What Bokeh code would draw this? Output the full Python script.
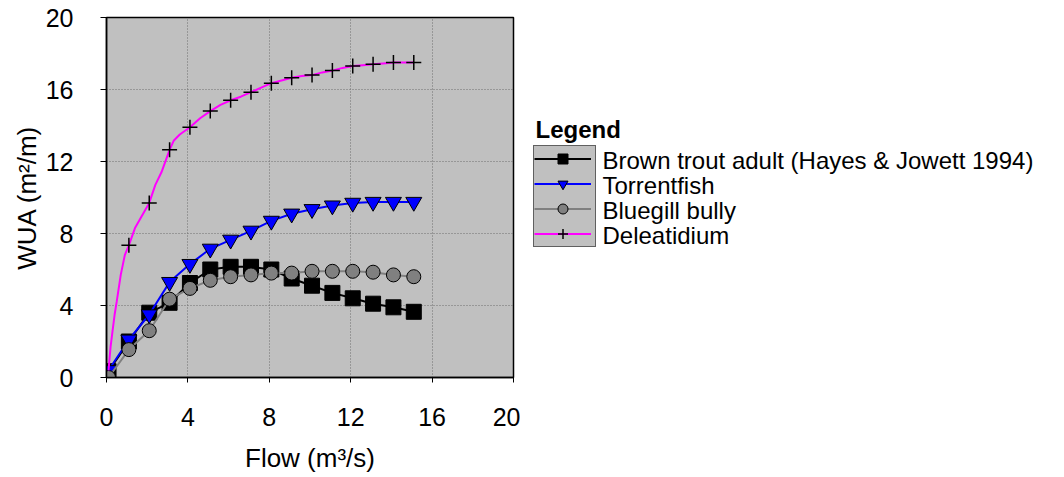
from bokeh.plotting import figure
from bokeh.models import Range1d, Legend, LegendItem, FixedTicker, Label
from bokeh.layouts import row
from bokeh.embed import file_html
from bokeh.resources import INLINE

# ---- data ----
flow = [0.1, 1.1, 2.1, 3.1, 4.1, 5.1, 6.1, 7.1, 8.1, 9.1, 10.1, 11.1, 12.1, 13.1, 14.1, 15.1]
brown_trout = [0.35, 2.0, 3.6, 4.15, 5.25, 6.0, 6.15, 6.15, 6.0, 5.5, 5.1, 4.7, 4.4, 4.1, 3.9, 3.65]
torrentfish = [0.4, 2.1, 3.5, 5.3, 6.3, 7.15, 7.65, 8.15, 8.7, 9.1, 9.35, 9.55, 9.7, 9.75, 9.75, 9.75]
bluegill = [0.0, 1.55, 2.6, 4.35, 4.95, 5.4, 5.6, 5.7, 5.8, 5.8, 5.9, 5.9, 5.9, 5.85, 5.7, 5.6]

delea_flow = [1.1, 2.1, 3.1, 4.1, 5.1, 6.1, 7.1, 8.1, 9.1, 10.1, 11.1, 12.1, 13.1, 14.1, 15.1]
delea_wua = [7.35, 9.7, 12.65, 13.9, 14.8, 15.4, 15.85, 16.35, 16.65, 16.8, 17.05, 17.3, 17.4, 17.5, 17.5]

delea_curve_flow = [0.1, 0.2, 0.3, 0.4, 0.5, 0.7, 0.9, 1.1, 1.4, 1.7, 2.1, 2.4, 2.7, 3.1, 3.3,
                    3.6, 4.1, 4.6, 5.1, 5.6, 6.1, 6.6, 7.1, 7.6, 8.1, 8.6, 9.1, 9.6, 10.1, 10.6,
                    11.1, 11.6, 12.1, 12.6, 13.1, 13.6, 14.1, 14.6, 15.1]
delea_curve_wua = [0.4, 1.7, 2.6, 3.5, 4.2, 5.7, 6.8, 7.35, 8.3, 8.9, 9.7, 10.7, 11.4, 12.65, 13.15,
                   13.5, 13.9, 14.4, 14.8, 15.15, 15.4, 15.6, 15.85, 16.1, 16.35, 16.5, 16.65, 16.75,
                   16.8, 16.95, 17.05, 17.2, 17.3, 17.35, 17.4, 17.45, 17.5, 17.5, 17.5]

axis_ticks = [0, 4, 8, 12, 16, 20]
legend_title = "Legend"
series_labels = ["Brown trout adult (Hayes & Jowett 1994)", "Torrentfish", "Bluegill bully", "Deleatidium"]

FONT = "Liberation Sans"
H = 475
FRAME_BOTTOM = 378
MAIN_W = 520

# ---- styles per series ----
styles = [
    dict(line=dict(line_color="black", line_width=2),
         mark=dict(marker="square", size=15, fill_color="black", line_color="black")),
    dict(line=dict(line_color="#0000ff", line_width=2),
         mark=dict(marker="inverted_triangle", size=16, fill_color="#0000ff", line_color="black")),
    dict(line=dict(line_color="#808080", line_width=2),
         mark=dict(marker="circle", size=14, fill_color="#808080", line_color="black")),
    dict(line=dict(line_color="#ff00ff", line_width=2),
         mark=dict(marker="cross", size=15, line_color="black", line_width=1.5)),
]
series_xy = [(flow, brown_trout), (flow, torrentfish), (flow, bluegill), (delea_flow, delea_wua)]

# ---- main chart ----
p = figure(width=MAIN_W, height=H, output_backend="svg", toolbar_location=None,
           x_range=Range1d(0, 20), y_range=Range1d(0, 20),
           min_border_left=106, min_border_right=7, min_border_top=17,
           min_border_bottom=H - FRAME_BOTTOM)
p.background_fill_color = "#c0c0c0"
p.border_fill_color = "white"
p.outline_line_color = "black"
p.outline_line_width = 1.5

for ax in (p.xaxis, p.yaxis):
    ax.ticker = FixedTicker(ticks=axis_ticks)
    ax.axis_line_color = "black"
    ax.axis_line_width = 1.5
    ax.major_tick_line_color = "black"
    ax.major_tick_in = 0
    ax.minor_tick_in = 0
    ax.minor_tick_out = 0
    ax.major_label_text_font = FONT
    ax.major_label_text_font_size = "25px"
    ax.major_label_text_color = "black"
    ax.axis_label_text_font = FONT
    ax.axis_label_text_font_size = "26px"
    ax.axis_label_text_font_style = "normal"
    ax.axis_label_text_color = "black"

p.xaxis.axis_label = "Flow (m³/s)"
p.yaxis.axis_label = "WUA (m²/m)"
p.xaxis.major_tick_out = 5
p.yaxis.major_tick_out = 6
p.xaxis.major_label_standoff = 25
p.yaxis.major_label_standoff = 27
p.xaxis.axis_label_standoff = 14
p.yaxis.axis_label_standoff = 1

for g in (p.xgrid, p.ygrid):
    g.grid_line_color = "#6e6e6e"
    g.grid_line_dash = "1 2"
    g.grid_line_width = 1

p.line(flow, brown_trout, **styles[0]["line"])
p.scatter(flow, brown_trout, **styles[0]["mark"])
p.line(flow, torrentfish, **styles[1]["line"])
p.scatter(flow, torrentfish, **styles[1]["mark"])
p.line(flow, bluegill, **styles[2]["line"])
p.scatter(flow, bluegill, **styles[2]["mark"])
p.line(delea_curve_flow, delea_curve_wua, **styles[3]["line"])
p.scatter(delea_flow, delea_wua, **styles[3]["mark"])

# ---- legend panel (its ranges keep the proxy glyphs out of view) ----
LW = 1060 - MAIN_W
q = figure(width=LW, height=H, output_backend="svg", toolbar_location=None,
           x_range=Range1d(100, 101), y_range=Range1d(100, 101),
           x_axis_location=None, y_axis_location=None,
           min_border_left=0, min_border_right=0, min_border_top=0, min_border_bottom=0)
q.grid.visible = False
q.outline_line_color = None
q.background_fill_color = "white"
q.border_fill_color = "white"

# grey swatch box holding the legend glyphs
items = []
for st, (xs, ys) in zip(styles, series_xy):
    rl = q.line(xs, ys, **st["line"])
    rm = q.scatter(xs, ys, **st["mark"])
    items.append(LegendItem(label=" ", renderers=[rl, rm]))

BOX_LEFT, BOX_BOTTOM = 533 - MAIN_W, 248
leg_box = Legend(items=items,
                 location=(BOX_LEFT, FRAME_BOTTOM - BOX_BOTTOM), orientation="vertical",
                 padding=0, spacing=0, margin=0, glyph_height=25, glyph_width=57,
                 label_standoff=4, label_width=0, label_height=0, label_text_font_size="1px",
                 background_fill_color="#c0c0c0", background_fill_alpha=1,
                 border_line_color="black", border_line_width=1.5)
q.add_layout(leg_box)

# legend title and entry labels (screen units inside the legend panel)
q.add_layout(Label(x=535 - MAIN_W, y=FRAME_BOTTOM - 130, x_units="screen", y_units="screen",
                   text=legend_title, text_font=FONT, text_font_size="24px",
                   text_font_style="bold", text_color="black",
                   text_align="left", text_baseline="middle"))
row_centers = [160.5, 185.5, 210.5, 235.5]
for lab, cy in zip(series_labels, row_centers):
    q.add_layout(Label(x=602 - MAIN_W, y=FRAME_BOTTOM - cy, x_units="screen", y_units="screen",
                       text=lab, text_font=FONT, text_font_size="24px", text_color="black",
                       text_align="left", text_baseline="middle"))

layout = row(p, q)
open("out.html", "w").write(file_html(layout, INLINE))
